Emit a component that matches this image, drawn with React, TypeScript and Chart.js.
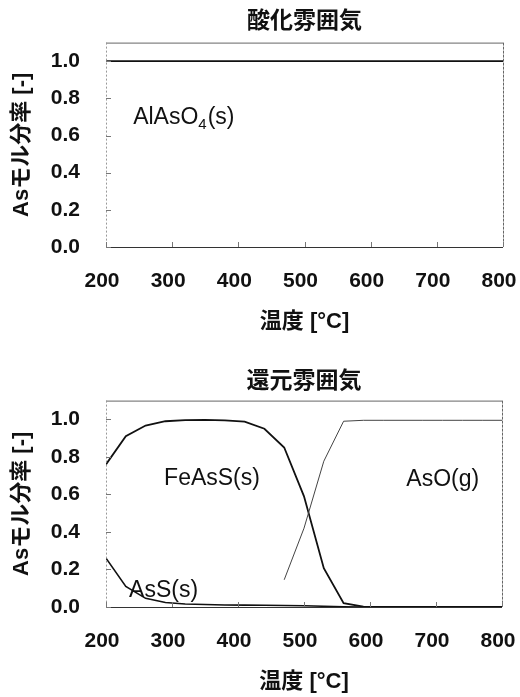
import React, { useEffect, useRef } from "react";
import { Chart, registerables } from "chart.js";

Chart.register(...registerables);

// ---------- data ----------
const xTickValues = [200, 300, 400, 500, 600, 700, 800];
const yTickValues = [0, 0.2, 0.4, 0.6, 0.8, 1.0];

// 酸化雰囲気 (oxidising atmosphere)
const oxidTemps = [200, 800];
const alAsO4 = [1.0, 1.0];

// 還元雰囲気 (reducing atmosphere)
const redTemps = [200, 230, 260, 290, 320, 350, 380, 410, 440, 470, 500, 530, 560, 590, 620, 650, 680, 710, 740, 770, 800];
const feAsS = [0.76, 0.91, 0.967, 0.99, 0.996, 0.997, 0.995, 0.988, 0.95, 0.85, 0.59, 0.207, 0.02, 0.002, 0, 0, 0, 0, 0, 0, 0];
const asS = [0.26, 0.11, 0.046, 0.024, 0.016, 0.013, 0.011, 0.01, 0.009, 0.008, 0.007, 0.004, 0.001, 0, 0, 0, 0, 0, 0, 0, 0];
const asO = [null, null, null, null, null, null, null, null, null, 0.145, 0.42, 0.777, 0.99, 0.995, 0.995, 0.995, 0.995, 0.995, 0.995, 0.995, 0.995];

// species labels (text, subscript, suffix, temperature, mole fraction)
const oxidLabels = [{ text: "AlAsO", sub: "4", after: "(s)", t: 241, v: 0.66 }];
const redLabels = [
  { text: "FeAsS(s)", sub: "", after: "", t: 288, v: 0.652 },
  { text: "AsS(s)", sub: "", after: "", t: 235, v: 0.055 },
  { text: "AsO(g)", sub: "", after: "", t: 655, v: 0.643 },
];

const FONT = "'Liberation Sans', Arial, 'Noto Sans CJK JP', sans-serif";

function pts(xs: number[], ys: (number | null)[]) {
  const out: { x: number; y: number }[] = [];
  xs.forEach((x, i) => {
    const y = ys[i];
    if (y !== null && y !== undefined) out.push({ x, y });
  });
  return out;
}

const framePlugin = {
  id: "frame",
  afterDatasetsDraw(chart: any, _args: any, opts: any) {
    const { ctx, chartArea } = chart;
    const { left, right, top, bottom } = chartArea;
    const xs = chart.scales.x;
    const ys = chart.scales.y;
    ctx.save();
    ctx.lineWidth = 1;
    ctx.strokeStyle = "#666";
    ctx.setLineDash([]);
    ctx.beginPath();
    ctx.moveTo(left, top + 0.5);
    ctx.lineTo(right, top + 0.5);
    ctx.stroke();
    ctx.strokeStyle = "#333";
    ctx.beginPath();
    ctx.moveTo(left, bottom + 0.5);
    ctx.lineTo(right, bottom + 0.5);
    ctx.stroke();
    ctx.strokeStyle = "#999";
    ctx.setLineDash([2, 2]);
    ctx.beginPath();
    ctx.moveTo(left + 0.5, top);
    ctx.lineTo(left + 0.5, bottom);
    ctx.stroke();
    ctx.strokeStyle = "#666";
    ctx.setLineDash([3, 1]);
    ctx.beginPath();
    ctx.moveTo(right + 0.5, top);
    ctx.lineTo(right + 0.5, bottom);
    ctx.stroke();
    ctx.setLineDash([]);
    ctx.strokeStyle = "#777";
    yTickValues.forEach((v) => {
      const py = Math.round(ys.getPixelForValue(v)) + 0.5;
      ctx.beginPath();
      ctx.moveTo(left, py);
      ctx.lineTo(left + 5, py);
      ctx.stroke();
    });
    xTickValues.forEach((v) => {
      const px = Math.round(xs.getPixelForValue(v)) + 0.5;
      ctx.beginPath();
      ctx.moveTo(px, bottom);
      ctx.lineTo(px, bottom - 5);
      ctx.stroke();
    });
    ctx.fillStyle = "#111";
    ctx.textBaseline = "alphabetic";
    ctx.textAlign = "left";
    (opts.labels || []).forEach((l: any) => {
      let x = xs.getPixelForValue(l.t);
      const y = ys.getPixelForValue(l.v);
      ctx.font = `23px ${FONT}`;
      ctx.fillText(l.text, x, y);
      x += ctx.measureText(l.text).width;
      if (l.sub) {
        ctx.font = `15px ${FONT}`;
        ctx.fillText(l.sub, x, y + 5);
        x += ctx.measureText(l.sub).width + 1;
      }
      if (l.after) {
        ctx.font = `23px ${FONT}`;
        ctx.fillText(l.after, x, y);
      }
    });
    ctx.restore();
  },
};

function makeConfig(p: {
  title: string;
  titlePad: { top: number; bottom: number };
  xTitlePad: { top: number; bottom: number };
  xHeight: number;
  rightPad: number;
  datasets: any[];
  labels: any[];
}) {
  return {
    type: "line" as const,
    data: { datasets: p.datasets },
    plugins: [framePlugin],
    options: {
      responsive: false,
      animation: false as const,
      devicePixelRatio: 1,
      layout: { padding: 0 },
      plugins: {
        legend: { display: false },
        tooltip: { enabled: false },
        frame: { labels: p.labels },
        title: {
          display: true,
          text: p.title,
          fullSize: false,
          color: "#111",
          font: { family: FONT, size: 23, weight: "bold" as const },
          padding: p.titlePad,
        },
      },
      elements: { point: { radius: 0 }, line: { tension: 0 } },
      scales: {
        x: {
          type: "linear" as const,
          min: 200,
          max: 800,
          grid: { display: false, drawTicks: false },
          border: { display: false },
          afterBuildTicks: (s: any) => {
            s.ticks = xTickValues.map((v) => ({ value: v }));
          },
          afterFit: (s: any) => {
            s.paddingRight = p.rightPad;
            s.paddingLeft = 0;
            s.height = p.xHeight;
          },
          ticks: {
            color: "#111",
            padding: 22,
            labelOffset: -4,
            maxRotation: 0,
            font: { family: FONT, size: 21, weight: "bold" as const },
          },
          title: {
            display: true,
            text: "温度 [°C]",
            color: "#111",
            font: { family: FONT, size: 22, weight: "bold" as const },
            padding: p.xTitlePad,
          },
        },
        y: {
          type: "linear" as const,
          min: 0,
          max: 1.1,
          grid: { display: false, drawTicks: false },
          border: { display: false },
          afterBuildTicks: (s: any) => {
            s.ticks = yTickValues.map((v) => ({ value: v }));
          },
          afterFit: (s: any) => {
            s.width = 106;
            s.paddingTop = 0;
            s.paddingBottom = 0;
          },
          ticks: {
            color: "#111",
            padding: 26,
            callback: (v: any) => Number(v).toFixed(1),
            font: { family: FONT, size: 21, weight: "bold" as const },
          },
          title: {
            display: true,
            text: "Asモル分率 [-]",
            color: "#111",
            font: { family: FONT, size: 22, weight: "bold" as const },
            padding: { top: 9, bottom: 0 },
          },
        },
      },
    },
  };
}

function ChartBox(props: { top: number; height: number; config: any }) {
  const ref = useRef<HTMLCanvasElement | null>(null);
  useEffect(() => {
    if (!ref.current) return;
    const chart = new Chart(ref.current, props.config);
    return () => chart.destroy();
  }, []);
  return (
    <div style={{ position: "absolute", left: 0, top: props.top, width: 520, height: props.height }}>
      <canvas ref={ref} width={520} height={props.height} style={{ display: "block" }} />
    </div>
  );
}

export default function App() {
  const oxidConfig = makeConfig({
    title: "酸化雰囲気",
    titlePad: { top: 8, bottom: 7 },
    xTitlePad: { top: 14.5, bottom: 15 },
    xHeight: 103,
    rightPad: 17,
    labels: oxidLabels,
    datasets: [
      {
        label: "AlAsO4(s)",
        data: pts(oxidTemps, alAsO4),
        borderColor: "#111",
        borderWidth: 1.8,
      },
    ],
  });
  const redConfig = makeConfig({
    title: "還元雰囲気",
    titlePad: { top: 10, bottom: 5 },
    xTitlePad: { top: 14, bottom: 2 },
    xHeight: 90,
    rightPad: 18,
    labels: redLabels,
    datasets: [
      {
        label: "AsO(g)",
        data: pts(redTemps, asO),
        borderColor: "#444",
        borderWidth: 1,
      },
      {
        label: "AsS(s)",
        data: pts(redTemps, asS),
        borderColor: "#111",
        borderWidth: 1.6,
      },
      {
        label: "FeAsS(s)",
        data: pts(redTemps, feAsS),
        borderColor: "#111",
        borderWidth: 1.8,
      },
    ],
  });
  return (
    <div style={{ position: "absolute", left: 0, top: 0, width: 520, height: 697, background: "#fff" }}>
      <ChartBox top={0} height={350} config={oxidConfig} />
      <ChartBox top={358} height={339} config={redConfig} />
    </div>
  );
}
